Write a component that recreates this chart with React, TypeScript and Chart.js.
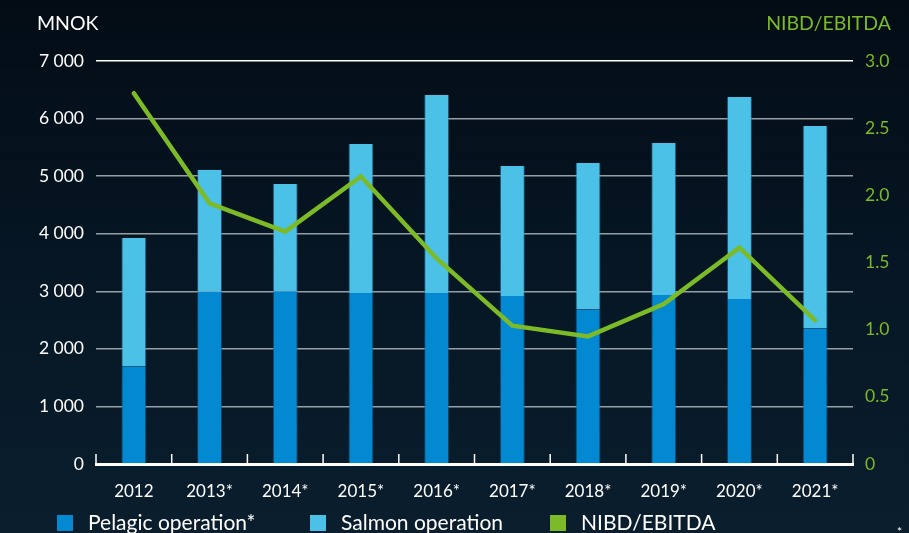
import React, { useEffect, useRef } from "react";
import { Chart, registerables } from "chart.js";

Chart.register(...registerables);

const categories = ["2012", "2013*", "2014*", "2015*", "2016*", "2017*", "2018*", "2019*", "2020*", "2021*"];
const pelagic = [1700, 2990, 3000, 2970, 2970, 2920, 2690, 2935, 2865, 2360];
const salmon = [2225, 2120, 1865, 2590, 3440, 2255, 2540, 2640, 3510, 3510];
const nibdEbitda = [2.76, 1.94, 1.73, 2.14, 1.53, 1.03, 0.95, 1.19, 1.61, 1.07];
const leftTicks = [0, 1000, 2000, 3000, 4000, 5000, 6000, 7000];
const rightTicks = [0, 0.5, 1.0, 1.5, 2.0, 2.5, 3.0];

const FONT = "Lato, 'Open Sans', sans-serif";
const GREEN = "#7cba28";
const DARK_BLUE = "#0289d1";
const LIGHT_BLUE = "#4cc1e7";

const decorPlugin = {
  id: "decor",
  beforeDraw(chart: any) {
    const { ctx, width, height } = chart;
    ctx.save();
    const g = ctx.createLinearGradient(0, 0, 0, height);
    g.addColorStop(0, "#030c15");
    g.addColorStop(0.5, "#061624");
    g.addColorStop(1, "#0a1e2d");
    ctx.fillStyle = g;
    ctx.fillRect(0, 0, width, height);
    ctx.restore();
  },
  afterDraw(chart: any) {
    const { ctx, chartArea } = chart;
    const x = chart.scales.x;
    ctx.save();
    ctx.strokeStyle = "#ffffff";
    ctx.lineWidth = 1.5;
    const n = categories.length;
    for (let i = 0; i <= n; i++) {
      const px = x.left + (i * (x.right - x.left)) / n;
      ctx.beginPath();
      ctx.moveTo(px, chartArea.bottom);
      ctx.lineTo(px, chartArea.bottom - 10);
      ctx.stroke();
    }
    ctx.font = `19.5px ${FONT}`;
    ctx.textBaseline = "middle";
    ctx.fillStyle = "#ffffff";
    ctx.textAlign = "left";
    ctx.fillText("MNOK", 37, 24);
    ctx.fillStyle = GREEN;
    ctx.textAlign = "right";
    ctx.fillText("NIBD/EBITDA", 891, 24);
    const items = [
      { label: chart.data.datasets[0].label, color: DARK_BLUE, x: 57 },
      { label: chart.data.datasets[1].label, color: LIGHT_BLUE, x: 310 },
      { label: chart.data.datasets[2].label, color: GREEN, x: 550 },
    ];
    const ly = 523;
    ctx.textAlign = "left";
    ctx.font = `21px ${FONT}`;
    items.forEach((it) => {
      ctx.fillStyle = it.color;
      ctx.fillRect(it.x, ly - 8, 16, 16);
      ctx.fillStyle = "#ffffff";
      ctx.fillText(it.label, it.x + 31, ly);
    });
    ctx.font = `12px ${FONT}`;
    ctx.fillText("*", 897, 532);
    ctx.restore();
  },
};

export default function App() {
  const ref = useRef<HTMLCanvasElement>(null);
  useEffect(() => {
    document.body.style.margin = "0";
    const chart = new Chart(ref.current as HTMLCanvasElement, {
      type: "bar",
      data: {
        labels: categories,
        datasets: [
          {
            type: "bar",
            label: "Pelagic operation*",
            data: pelagic,
            backgroundColor: DARK_BLUE,
            borderColor: "rgba(20,90,140,0.6)",
            borderWidth: { left: 1, right: 1, top: 0, bottom: 0 } as any,
            yAxisID: "y",
            order: 1,
            barPercentage: 0.33,
            categoryPercentage: 1,
          },
          {
            type: "bar",
            label: "Salmon operation",
            data: salmon,
            backgroundColor: LIGHT_BLUE,
            borderColor: "rgba(40,120,170,0.6)",
            borderWidth: { left: 1, right: 1, top: 0, bottom: 0 } as any,
            yAxisID: "y",
            order: 1,
            barPercentage: 0.33,
            categoryPercentage: 1,
          },
          {
            type: "line",
            label: "NIBD/EBITDA",
            data: nibdEbitda,
            borderColor: GREEN,
            borderWidth: 4.5,
            pointRadius: 0,
            tension: 0,
            borderCapStyle: "round",
            yAxisID: "y1",
            order: 0,
          } as any,
        ],
      },
      options: {
        responsive: false,
        animation: false,
        layout: { padding: { top: 61, left: 0, right: 0, bottom: 0 } },
        plugins: { legend: { display: false }, tooltip: { enabled: false } },
        scales: {
          x: {
            stacked: true,
            grid: { display: false, drawTicks: false },
            border: { display: true, color: "#ffffff", width: 3 },
            ticks: { color: "#ffffff", font: { family: FONT, size: 17 }, padding: 17 },
            afterFit: (s: any) => {
              s.height = 69;
            },
          },
          y: {
            stacked: true,
            position: "left",
            min: 0,
            max: 7000,
            afterBuildTicks: (s: any) => {
              s.ticks = leftTicks.map((v) => ({ value: v }));
            },
            grid: {
              drawTicks: false,
              color: (c: any) => (c.tick && c.tick.value === 7000 ? "#ffffff" : "rgba(200,205,210,0.75)"),
              lineWidth: 1.5,
            },
            border: { display: false },
            ticks: {
              color: "#ffffff",
              font: { family: FONT, size: 17.5 },
              padding: 12,
              callback: (v: any) => Number(v).toLocaleString("en-US").replace(/,/g, " "),
            },
            afterFit: (s: any) => {
              s.width = 96;
            },
          },
          y1: {
            position: "right",
            min: 0,
            max: 3,
            afterBuildTicks: (s: any) => {
              s.ticks = rightTicks.map((v) => ({ value: v }));
            },
            grid: { drawOnChartArea: false, drawTicks: false },
            border: { display: false },
            ticks: {
              color: GREEN,
              font: { family: FONT, size: 17.5 },
              padding: 12,
              callback: (v: any) => (Number(v) === 0 ? "0" : Number(v).toFixed(1)),
            },
            afterFit: (s: any) => {
              s.width = 56;
            },
          },
        },
      },
      plugins: [decorPlugin],
    });
    return () => chart.destroy();
  }, []);
  return (
    <div style={{ width: 909, height: 533 }}>
      <canvas ref={ref} width={909} height={533} />
    </div>
  );
}
